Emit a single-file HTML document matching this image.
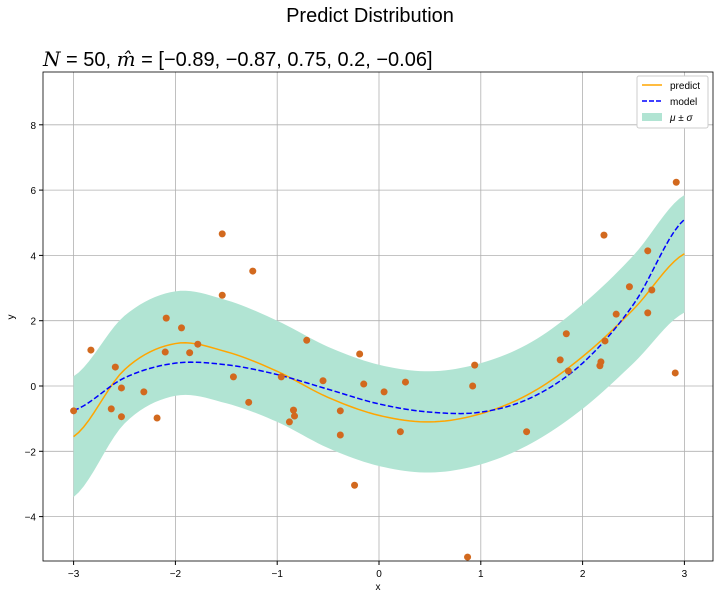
<!DOCTYPE html>
<html><head><meta charset="utf-8"><style>
body{margin:0;background:#fff;width:719px;height:599px;overflow:hidden}
text{font-family:"Liberation Sans","DejaVu Sans",sans-serif}
</style></head><body>
<svg id="c" width="719" height="599" xmlns="http://www.w3.org/2000/svg">
<text x="370" y="22" font-size="20" text-anchor="middle">Predict Distribution</text>
<text x="43" y="66" font-size="20"><tspan font-style="italic" font-family="DejaVu Serif, serif">N</tspan> = 50, <tspan font-style="italic" font-family="DejaVu Serif, serif">m̂</tspan> = [−0.89, −0.87, 0.75, 0.2, −0.06]</text>
<g id="grid"></g><g id="band"></g><g id="lines"></g><g id="pts"></g><g id="axes"></g>
<text x="378" y="590" font-size="10" text-anchor="middle">x</text>
<text x="14" y="317" font-size="10" text-anchor="middle" transform="rotate(-90 14 317)">y</text>
<g>
<rect x="637" y="76" width="71" height="52" fill="#fff" stroke="#ccc" rx="2"/>
<line x1="642" y1="85" x2="662" y2="85" stroke="orange" stroke-width="1.5"/>
<text x="670" y="89" font-size="10">predict</text>
<line x1="642" y1="101" x2="662" y2="101" stroke="blue" stroke-width="1.5" stroke-dasharray="5,2"/>
<text x="670" y="105" font-size="10">model</text>
<rect x="642" y="113" width="20" height="8" fill="#b1e4d3"/>
<text x="670" y="121" font-size="10" font-style="italic">μ ± σ</text>
</g>
</svg>
<script>
const xs=[-3,-2.5,-2,-1.5,-1,-0.5,0,0.5,1,1.5,2,2.5,3];
const predict=[-1.55,0.5,1.3,1.05,0.45,-0.35,-0.9,-1.1,-0.85,-0.2,0.9,2.35,4.05];
const model=[-0.75,0.25,0.7,0.65,0.35,-0.1,-0.55,-0.8,-0.8,-0.35,0.7,2.5,5.1];
const sigma=[1.85,1.65,1.6,1.58,1.55,1.55,1.55,1.55,1.55,1.55,1.6,1.65,1.8];
const ptX=[-3.0,-2.83,-2.63,-2.59,-2.53,-2.53,-2.31,-2.18,-2.10,-2.09,-1.94,-1.86,-1.78,-1.54,-1.54,-1.43,-1.28,-1.24,-0.96,-0.88,-0.84,-0.83,-0.71,-0.55,-0.38,-0.38,-0.24,-0.19,-0.15,0.05,0.21,0.26,0.87,0.92,0.94,1.45,1.78,1.84,1.86,2.17,2.18,2.21,2.22,2.33,2.46,2.64,2.64,2.68,2.91,2.92];
const ptY=[-0.76,1.1,-0.7,0.58,-0.06,-0.94,-0.18,-0.98,1.04,2.08,1.78,1.02,1.28,4.66,2.78,0.28,-0.5,3.52,0.28,-1.1,-0.74,-0.92,1.4,0.16,-0.76,-1.5,-3.04,0.98,0.06,-0.18,-1.4,0.12,-5.24,0.0,0.64,-1.4,0.8,1.6,0.46,0.62,0.74,4.62,1.38,2.2,3.04,4.14,2.24,2.94,0.4,6.24];
const xTicks=[-3,-2,-1,0,1,2,3];
const yTicks=[-4,-2,0,2,4,6,8];
const L=43,R=713,T=72,B=561;
const sx=v=>379+v*101.8, sy=v=>386-v*32.65;
const NS="http://www.w3.org/2000/svg";
function mk(p,t,a){const e=document.createElementNS(NS,t);for(const k in a)e.setAttribute(k,a[k]);document.getElementById(p).appendChild(e);return e;}
function interp(ys,x){ // Catmull-Rom over xs
  let i=Math.min(xs.length-2,Math.max(0,Math.floor((x-xs[0])/(xs[1]-xs[0]))));
  const t=(x-xs[i])/(xs[i+1]-xs[i]);
  const p0=ys[Math.max(0,i-1)],p1=ys[i],p2=ys[i+1],p3=ys[Math.min(ys.length-1,i+2)];
  return 0.5*((2*p1)+(-p0+p2)*t+(2*p0-5*p1+4*p2-p3)*t*t+(-p0+3*p1-3*p2+p3)*t*t*t);
}
const samp=[];for(let k=0;k<=120;k++)samp.push(xs[0]+(xs[xs.length-1]-xs[0])*k/120);
xTicks.forEach(v=>{const g=mk('grid','line',{x1:sx(v),x2:sx(v),y1:T,y2:B,stroke:'#b0b0b0','stroke-width':0.8});
 const t=mk('axes','text',{x:sx(v),y:B+16,'font-size':10,'text-anchor':'middle'});t.textContent=v<0?'−'+(-v):v;
 mk('axes','line',{x1:sx(v),x2:sx(v),y1:B,y2:B+4,stroke:'#000'});});
yTicks.forEach(v=>{const g=mk('grid','line',{x1:L,x2:R,y1:sy(v),y2:sy(v),stroke:'#b0b0b0','stroke-width':0.8});
 const t=mk('axes','text',{x:L-7,y:sy(v)+4,'font-size':10,'text-anchor':'end'});t.textContent=v<0?'−'+(-v):v;
 mk('axes','line',{x1:L-4,x2:L,y1:sy(v),y2:sy(v),stroke:'#000'});});
const up=samp.map(x=>sx(x)+','+sy(interp(predict,x)+interp(sigma,x)));
const lo=samp.slice().reverse().map(x=>sx(x)+','+sy(interp(predict,x)-interp(sigma,x)));
const band=mk('band','polygon',{points:up.concat(lo).join(' '),fill:'#b1e4d3'});

const pl=mk('lines','polyline',{points:samp.map(x=>sx(x)+','+sy(interp(predict,x))).join(' '),fill:'none',stroke:'orange','stroke-width':1.5});

const ml=mk('lines','polyline',{points:samp.map(x=>sx(x)+','+sy(interp(model,x))).join(' '),fill:'none',stroke:'blue','stroke-width':1.5,'stroke-dasharray':'5.5,2.4'});

ptX.forEach((x,i)=>{const c=mk('pts','circle',{cx:sx(x),cy:sy(ptY[i]),r:3.5,fill:'#d2691e'});
});
const fr=mk('axes','rect',{x:L,y:T,width:R-L,height:B-T,fill:'none',stroke:'#000','stroke-width':0.8});

</script>
</body></html>
